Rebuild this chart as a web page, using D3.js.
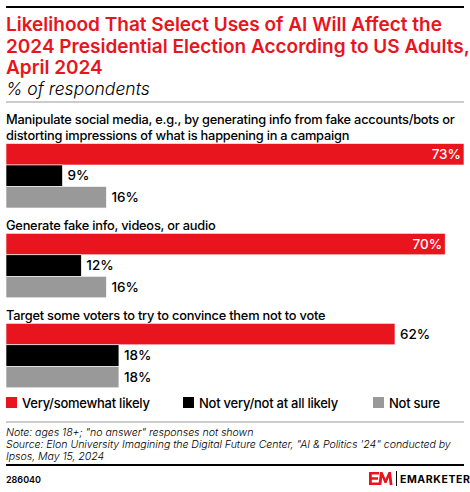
<!DOCTYPE html>
<html>
<head>
<meta charset="utf-8">
<script src="https://cdn.jsdelivr.net/npm/d3@7"></script>
<style>
  body { margin: 0; background: #fff; }
  svg { display: block; font-family: Inter, "Noto Sans", sans-serif; }
</style>
</head>
<body>
<script>
"use strict";

// data
const categories = [
  ["Manipulate social media, e.g., by generating info from fake accounts/bots or",
   "distorting impressions of what is happening in a campaign"],
  ["Generate fake info, videos, or audio"],
  ["Target some voters to try to convince them not to vote"]
];
const seriesNames = ["Very/somewhat likely", "Not very/not at all likely", "Not sure"];
const likely = [73, 70, 62];
const notLikely = [9, 12, 18];
const notSure = [16, 16, 18];

const colors = ["#e8141e", "#000000", "#999999"];
const series = [likely, notLikely, notSure];

const w = 470, h = 492;
const left = 6;
const barH = 21.5;
const groupTops = [143.5, 233.3, 323.3];

const svg = d3.select("body").append("svg")
  .attr("width", w).attr("height", h);

// header
svg.append("rect").attr("x", 6).attr("y", 6).attr("width", 458).attr("height", 2).attr("fill", "#000");
const title = ["Likelihood That Select Uses of AI Will Affect the",
  "2024 Presidential Election According to US Adults,",
  "April 2024"];
svg.selectAll("text.title").data(title).enter().append("text")
  .attr("class", "title")
  .attr("x", 6).attr("y", (d, i) => 31 + i * 21.5)
  .attr("fill", "#e8141e")
  .attr("font-size", 19).attr("font-weight", 600)
  .text(d => d);
svg.append("text").attr("x", 6).attr("y", 95)
  .attr("font-size", 17.5).attr("font-style", "italic").attr("font-weight", 300)
  .text("% of respondents");
svg.append("rect").attr("x", 6).attr("y", 101.5).attr("width", 458).attr("height", 1).attr("fill", "#999");

// scale
const x = d3.scaleLinear().domain([0, 73]).range([left, 464]);

categories.forEach((lines, g) => {
  const top = groupTops[g];
  svg.selectAll(null).data(lines).enter().append("text")
    .attr("x", 6)
    .attr("y", (d, i) => top - 3.5 - (lines.length - 1 - i) * 15.6)
    .attr("font-size", 12.8).attr("font-weight", 500)
    .attr("letter-spacing", -0.22)
    .text(d => d);

  series.forEach((vals, s) => {
    const v = vals[g];
    const y = top + s * barH;
    svg.append("rect")
      .attr("x", x(0)).attr("y", y)
      .attr("width", x(v) - x(0)).attr("height", barH)
      .attr("fill", colors[s])
      .attr("stroke", "#fff").attr("stroke-width", 0.6);
    const inside = x(v) > 420;
    svg.append("text")
      .attr("x", inside ? x(v) - 3 : x(v) + 5)
      .attr("y", y + barH / 2 + 4.5)
      .attr("text-anchor", inside ? "end" : "start")
      .attr("fill", inside ? "#fff" : "#000")
      .attr("font-size", 13.5).attr("font-weight", 500)
      .text(v + "%");
  });
});

// legend
const legendX = [6, 183, 373];
seriesNames.forEach((name, i) => {
  svg.append("rect").attr("x", legendX[i]).attr("y", 397).attr("width", 11).attr("height", 11)
    .attr("fill", colors[i]);
  svg.append("text").attr("x", legendX[i] + 16).attr("y", 408)
    .attr("font-size", 13).attr("font-weight", 500)
    .attr("letter-spacing", -0.25)
    .text(name);
});

// footer
svg.append("rect").attr("x", 6).attr("y", 421.5).attr("width", 458).attr("height", 1).attr("fill", "#999");
const notes = ["Note: ages 18+; \"no answer\" responses not shown",
  "Source: Elon University Imagining the Digital Future Center, \"AI & Politics '24\" conducted by",
  "Ipsos, May 15, 2024"];
svg.selectAll("text.note").data(notes).enter().append("text")
  .attr("class", "note")
  .attr("x", 6).attr("y", (d, i) => 435.5 + i * 12.3)
  .attr("font-size", 10.6).attr("font-style", "italic").attr("font-weight", 300)
  .attr("letter-spacing", -0.05)
  .text(d => d);
svg.append("rect").attr("x", 6).attr("y", 464).attr("width", 458).attr("height", 2).attr("fill", "#000");
svg.append("text").attr("x", 6).attr("y", 482.5)
  .attr("font-size", 9).attr("font-weight", 600).text("286040");

// logo
const logo = svg.append("g").attr("transform", "translate(369,472)");
logo.append("path")
  .attr("d", "M0,0H10V2.6H2.8V5.2H9V7.8H2.8V10.4H10V13H0Z")
  .attr("fill", "#e8141e");
logo.append("path")
  .attr("d", "M9.5,13L11,0H13.5L16.5,7L19.5,0H22L23.5,13H20.7L19.8,5.5L17.5,11H15.5L13.2,5.5L12.3,13Z")
  .attr("fill", "#e8141e");
logo.append("rect").attr("x", 27).attr("y", -1).attr("width", 1).attr("height", 15).attr("fill", "#000");
svg.append("text").attr("x", 400).attr("y", 483)
  .attr("font-size", 10.5).attr("font-weight", 700).attr("letter-spacing", 0.6)
  .text("EMARKETER");
</script>
</body>
</html>
